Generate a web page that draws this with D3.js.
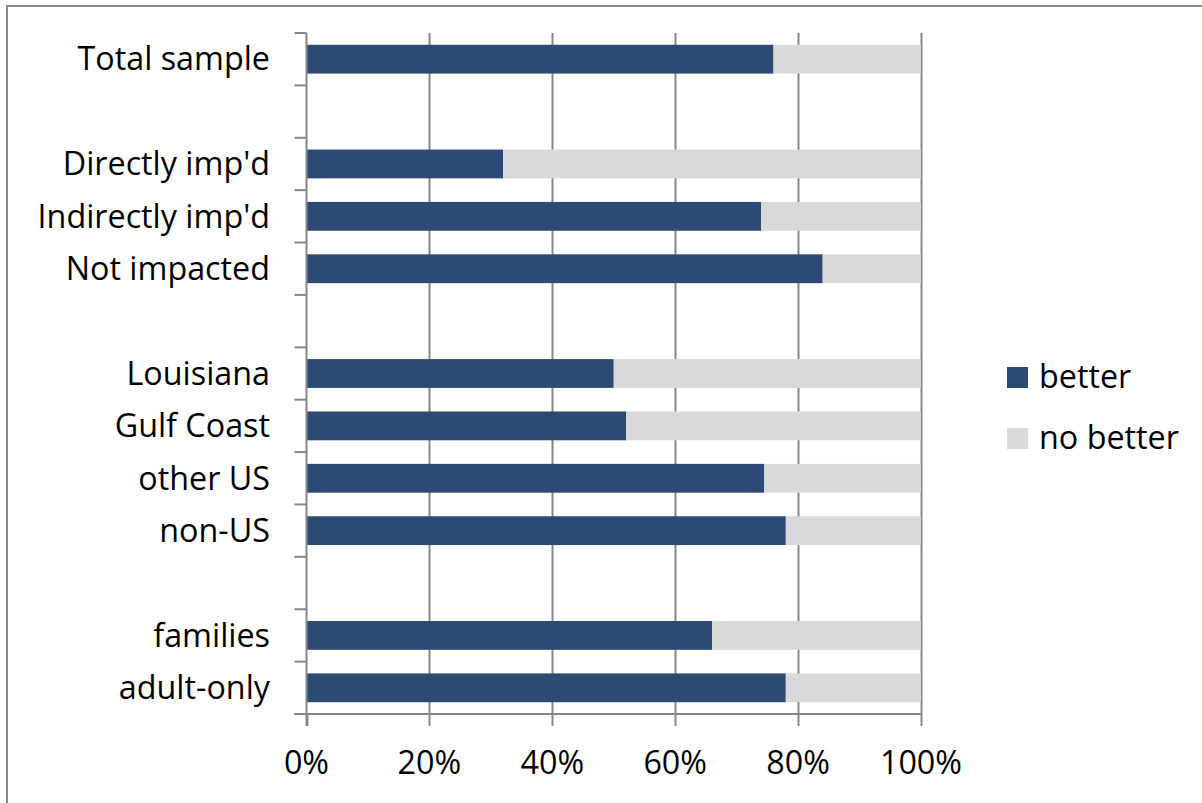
<!DOCTYPE html>
<html>
<head>
<meta charset="utf-8">
<script src="https://cdn.jsdelivr.net/npm/d3@7"></script>
<style>
  html, body { margin: 0; padding: 0; background: #fff; }
  svg { display: block; }
  text { font-family: "Open Sans", Lato, sans-serif; fill: #000; }
</style>
</head>
<body>
<svg id="chart" width="1202" height="803"></svg>
<script>
// Categories (empty strings are spacer rows in the original chart)
const categories = ["Total sample", "", "Directly imp'd", "Indirectly imp'd", "Not impacted", "",
  "Louisiana", "Gulf Coast", "other US", "non-US", "", "families", "adult-only"];
const betterValues = [76, null, 32, 74, 84, null, 50, 52, 74.5, 78, null, 66, 78];
const noBetterValues = [24, null, 68, 26, 16, null, 50, 48, 25.5, 22, null, 34, 22];
const xTickValues = [0, 20, 40, 60, 80, 100];
const seriesNames = ["better", "no better"];
const seriesColors = ["#2D4A75", "#D9D9D9"];

(function () {
const svg = d3.select("#chart");
const W = 1202, H = 803;
const pLeft = 306.5, pRight = 921, pTop = 33, pBottom = 714;
const gridColor = "#878787";
const fs = 32.3;

// outer border (cut off at right and bottom like the reference)
svg.append("rect").attr("x", 7).attr("y", 6).attr("width", W + 20).attr("height", H + 20)
  .attr("fill", "none").attr("stroke", "#8a8a8a").attr("stroke-width", 2);

const rows = categories.map((c, i) => ({ key: "r" + i, label: c, better: betterValues[i], nobetter: noBetterValues[i] }));

const x = d3.scaleLinear().domain([0, 100]).range([pLeft, pRight]);
const y = d3.scaleBand().domain(rows.map(r => r.key)).range([pTop, pBottom])
  .paddingInner(0.45).paddingOuter(0.225);

// vertical gridlines
svg.append("g").selectAll("line").data(xTickValues.filter(v => v > 0)).join("line")
  .attr("x1", d => Math.round(x(d)) + 0.5).attr("x2", d => Math.round(x(d)) + 0.5)
  .attr("y1", pTop).attr("y2", pBottom)
  .attr("stroke", gridColor).attr("stroke-width", 2);

// stacked bars
const stackData = rows.filter(r => r.better != null);
const stack = d3.stack().keys(["better", "nobetter"]);
const layers = stack(stackData);
layers.forEach((layer, li) => {
  svg.append("g").selectAll("rect").data(layer).join("rect")
    .attr("x", d => x(d[0]))
    .attr("width", d => x(d[1]) - x(d[0]))
    .attr("y", d => y(d.data.key))
    .attr("height", y.bandwidth())
    .attr("fill", seriesColors[li]);
});

// y axis line + ticks at slot boundaries
const step = y.step();
const yTickPositions = d3.range(categories.length + 1).map(i => pTop + i * step);
svg.append("line").attr("x1", pLeft).attr("x2", pLeft).attr("y1", pTop).attr("y2", pBottom + 12)
  .attr("stroke", gridColor).attr("stroke-width", 2);
svg.append("g").selectAll("line").data(yTickPositions).join("line")
  .attr("x1", pLeft - 12).attr("x2", pLeft).attr("y1", d => d).attr("y2", d => d)
  .attr("stroke", gridColor).attr("stroke-width", 2);

// x axis line + ticks
svg.append("line").attr("x1", pLeft - 12).attr("x2", pRight).attr("y1", pBottom).attr("y2", pBottom)
  .attr("stroke", gridColor).attr("stroke-width", 2);
svg.append("g").selectAll("line").data(xTickValues).join("line")
  .attr("x1", d => Math.round(x(d)) + 0.5).attr("x2", d => Math.round(x(d)) + 0.5)
  .attr("y1", pBottom).attr("y2", pBottom + 12)
  .attr("stroke", gridColor).attr("stroke-width", 2);

// x tick labels
svg.append("g").selectAll("text").data(xTickValues).join("text")
  .attr("x", d => x(d)).attr("y", 774)
  .attr("text-anchor", "middle").attr("font-size", fs)
  .text(d => d + "%");

// category labels
svg.append("g").selectAll("text").data(rows.filter(r => r.label)).join("text")
  .attr("x", 270).attr("y", d => y(d.key) + y.bandwidth() / 2)
  .attr("dy", "0.35em")
  .attr("text-anchor", "end").attr("font-size", fs)
  .text(d => d.label);

// legend
const legend = svg.append("g");
seriesNames.forEach((name, i) => {
  const ly = 367 + i * 61;
  legend.append("rect").attr("x", 1007).attr("y", ly).attr("width", 21).attr("height", 21)
    .attr("fill", seriesColors[i]);
  legend.append("text").attr("x", 1039).attr("y", ly + 21).attr("font-size", fs).text(name);
});
})();
</script>
</body>
</html>
